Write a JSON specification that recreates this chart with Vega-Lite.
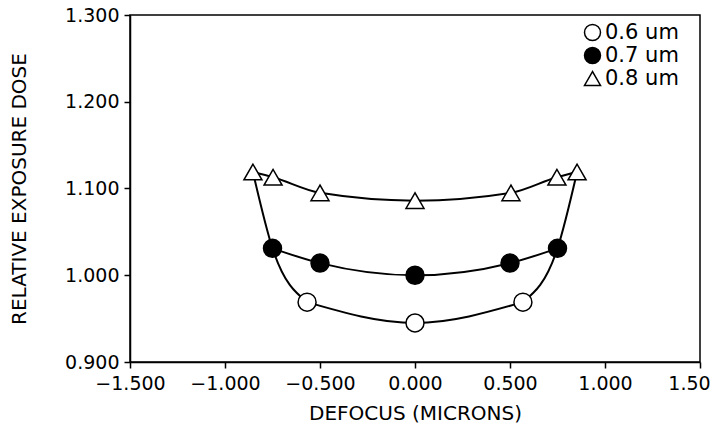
{
  "$schema": "https://vega.github.io/schema/vega-lite/v6.json",
  "width": 570,
  "height": 347,
  "autosize": {"type": "none"},
  "padding": {"left": 130, "top": 15, "right": 19, "bottom": 67},
  "background": "white",
  "config": {
    "view": {"stroke": "black", "strokeWidth": 1.5},
    "font": "DejaVu Sans",
    "axis": {
      "grid": false,
      "labelFont": "DejaVu Sans",
      "labelFontSize": 19,
      "labelColor": "black",
      "tickColor": "black",
      "domainColor": "black",
      "tickSize": 6,
      "tickWidth": 1.5,
      "domainWidth": 1.5,
      "titleFont": "DejaVu Sans",
      "titleFontSize": 20,
      "titleFontWeight": "normal",
      "titleColor": "black",
      "labelOverlap": false,
      "labelFlush": false
    }
  },
  "datasets": {
    "points": [
      {"series": "0.6 um", "x": -0.568, "y": 0.969},
      {"series": "0.6 um", "x": 0.0, "y": 0.945},
      {"series": "0.6 um", "x": 0.568, "y": 0.969},
      {"series": "0.7 um", "x": -0.75, "y": 1.031},
      {"series": "0.7 um", "x": -0.5, "y": 1.014},
      {"series": "0.7 um", "x": 0.0, "y": 1.0},
      {"series": "0.7 um", "x": 0.5, "y": 1.014},
      {"series": "0.7 um", "x": 0.75, "y": 1.031},
      {"series": "0.8 um", "x": -0.853, "y": 1.119},
      {"series": "0.8 um", "x": -0.747, "y": 1.113},
      {"series": "0.8 um", "x": -0.5, "y": 1.095},
      {"series": "0.8 um", "x": 0.0, "y": 1.086},
      {"series": "0.8 um", "x": 0.505, "y": 1.095},
      {"series": "0.8 um", "x": 0.747, "y": 1.113},
      {"series": "0.8 um", "x": 0.853, "y": 1.119}
    ],
    "edges": [
      {"side": "left", "x": -0.853, "y": 1.119},
      {"side": "left", "x": -0.75, "y": 1.031},
      {"side": "left", "x": -0.568, "y": 0.969},
      {"side": "right", "x": 0.568, "y": 0.969},
      {"side": "right", "x": 0.75, "y": 1.031},
      {"side": "right", "x": 0.853, "y": 1.119}
    ]
  },
  "layer": [
    {
      "data": {"name": "points"},
      "mark": {"type": "line", "interpolate": "monotone", "color": "black", "strokeWidth": 2},
      "encoding": {
        "x": {"field": "x", "type": "quantitative", "scale": {"domain": [-1.5, 1.5], "nice": false, "zero": false},
          "axis": {"title": "DEFOCUS (MICRONS)", "values": [-1.5, -1, -0.5, 0, 0.5, 1, 1.5],
            "labelExpr": "datum.value === 1.5 ? '1.50' : format(datum.value, '.3f')",
            "labelPadding": 6, "titleY": 51, "titleBaseline": "middle",
            "labelOffset": {"expr": "datum.value === 1.5 ? -11 : 0"}}},
        "y": {"field": "y", "type": "quantitative", "scale": {"domain": [0.9, 1.3], "nice": false, "zero": false},
          "axis": {"title": "RELATIVE EXPOSURE DOSE", "values": [0.9, 1.0, 1.1, 1.2, 1.3], "format": ".3f",
            "labelPadding": 5, "titleX": -111, "titleY": 173.5, "titleAngle": -90, "titleAlign": "center", "titleBaseline": "middle"}},
        "detail": {"field": "series"}
      }
    },
    {
      "data": {"name": "edges"},
      "mark": {"type": "line", "interpolate": "monotone", "color": "black", "strokeWidth": 2},
      "encoding": {
        "x": {"field": "x", "type": "quantitative"},
        "y": {"field": "y", "type": "quantitative"},
        "detail": {"field": "side"}
      }
    },
    {
      "data": {"name": "points"},
      "mark": {"type": "point", "filled": true, "stroke": "black", "strokeWidth": 1.5, "size": 324, "opacity": 1},
      "encoding": {
        "x": {"field": "x", "type": "quantitative"},
        "y": {"field": "y", "type": "quantitative"},
        "shape": {"field": "series", "type": "nominal",
          "scale": {"domain": ["0.6 um", "0.7 um", "0.8 um"], "range": ["circle", "circle", "triangle-up"]},
          "legend": {"title": null, "orient": "none", "legendX": 452, "legendY": 7, "padding": 0,
            "labelFontSize": 21, "labelFont": "DejaVu Sans", "labelColor": "black", "symbolSize": 256,
            "rowPadding": 0, "labelOffset": 2,
            "encode": {"symbols": {"update": {"stroke": {"value": "black"}, "strokeWidth": {"value": 1.5}, "opacity": {"value": 1}}}}}},
        "fill": {"field": "series", "type": "nominal",
          "scale": {"domain": ["0.6 um", "0.7 um", "0.8 um"], "range": ["white", "black", "white"]},
          "legend": {"title": null, "orient": "none", "legendX": 452, "legendY": 7, "padding": 0,
            "labelFontSize": 21, "labelFont": "DejaVu Sans", "labelColor": "black", "symbolSize": 256,
            "rowPadding": 0, "labelOffset": 2,
            "encode": {"symbols": {"update": {"stroke": {"value": "black"}, "strokeWidth": {"value": 1.5}, "opacity": {"value": 1}}}}}}
      }
    }
  ]
}
